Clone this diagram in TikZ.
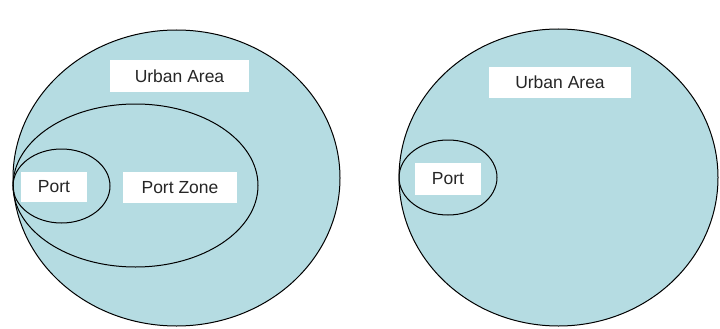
\documentclass[tikz,border=0pt]{standalone}
\usepackage{fontspec}
\setmainfont{Liberation Sans}
\usetikzlibrary{shapes.geometric}
\definecolor{areablue}{RGB}{181,220,226}
\tikzset{
  region/.style={ellipse, draw=black, line width=1pt, inner sep=0pt},
  bigregion/.style={region, fill=areablue},
  tag/.style={fill=white, inner sep=0pt, font=\fontsize{17.5}{20}\selectfont, text=black!85}
}
\begin{document}
\begin{tikzpicture}[x=1pt,y=-1pt]
\useasboundingbox (0,0) rectangle (720,329);
% left diagram
\node[bigregion, minimum width=327pt, minimum height=296pt] (urbanL) at (176.5,178) {};
\node[region, minimum width=245pt, minimum height=163pt] (zoneL) at (135.5,185.5) {};
\node[region, minimum width=97pt, minimum height=74pt] (portL) at (61.5,186) {};
\node[tag, minimum width=139pt, minimum height=32pt] (urbanLtxt) at (179.5,76) {Urban Area};
\node[tag, minimum width=114pt, minimum height=31pt] (zoneLtxt) at (180,187.5) {Port Zone};
\node[tag, minimum width=66pt, minimum height=30pt] (portLtxt) at (54,187) {Port};
% right diagram
\node[bigregion, minimum width=319pt, minimum height=297pt] (urbanR) at (558.5,177.5) {};
\node[region, minimum width=98pt, minimum height=75pt] (portR) at (448,177.5) {};
\node[tag, minimum width=142pt, minimum height=31pt] (urbanRtxt) at (560,82.5) {Urban Area};
\node[tag, minimum width=66pt, minimum height=32pt] (portRtxt) at (448,179) {Port};
\end{tikzpicture}
\end{document}
